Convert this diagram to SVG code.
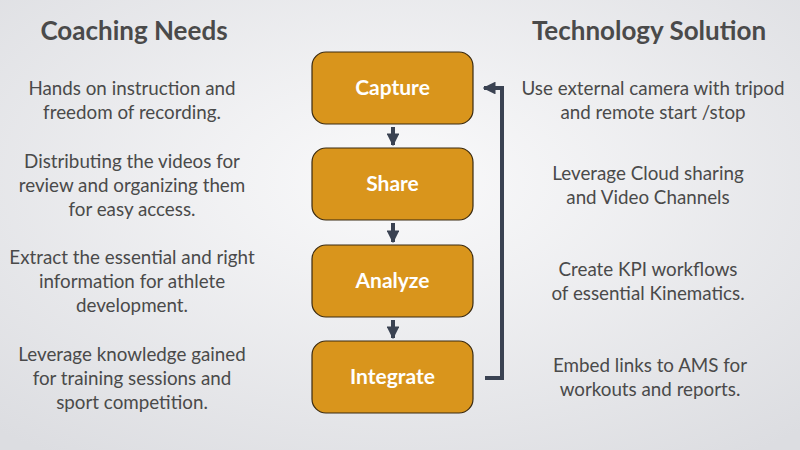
<svg xmlns="http://www.w3.org/2000/svg" width="800" height="450" viewBox="0 0 800 450">
<defs>
<radialGradient id="bg" cx="50%" cy="40%" r="75%"><stop offset="0" stop-color="#fafafb"/><stop offset="1" stop-color="#dcdde1"/></radialGradient>
<marker id="ah" viewBox="0 0 10 10" refX="9" refY="5" markerWidth="3.2" markerHeight="3.2" orient="auto"><path d="M0,0L10,5L0,10z" fill="#3a4252"/></marker>
<style>
.t{font-family:Lato,"Open Sans",sans-serif;fill:#4a4a4a;font-size:18.8px;text-anchor:middle}
.h{font-family:Lato,"Open Sans",sans-serif;fill:#4a4a4a;font-size:26px;font-weight:bold;text-anchor:middle}
.box{fill:#d9951c;stroke:#3a2a10;stroke-width:1.2}
.bl{font-family:Lato,"Open Sans",sans-serif;fill:#fff;font-size:21px;font-weight:bold;text-anchor:middle}
.c{stroke:#3a4252;stroke-width:4;fill:none;marker-end:url(#ah)}
</style>
</defs>
<rect width="800" height="450" fill="url(#bg)"/>
<text class="h" x="134" y="40">Coaching Needs</text>
<text class="h" x="649" y="40">Technology Solution</text>
<g class="t">
<text x="132" y="95">Hands on instruction and</text><text x="132" y="119">freedom of recording.</text>
<text x="132" y="168">Distributing the videos for</text><text x="132" y="192">review and organizing them</text><text x="132" y="216">for easy access.</text>
<text x="132" y="264">Extract the essential and right</text><text x="132" y="288">information for athlete</text><text x="132" y="312">development.</text>
<text x="132" y="361">Leverage knowledge gained</text><text x="132" y="385">for training sessions and</text><text x="132" y="409">sport competition.</text>
<text x="653" y="95">Use external camera with tripod</text><text x="653" y="119">and remote start /stop</text>
<text x="648" y="180">Leverage Cloud sharing</text><text x="648" y="204">and Video Channels</text>
<text x="648" y="276">Create KPI workflows</text><text x="648" y="300">of essential Kinematics.</text>
<text x="650" y="372">Embed links to AMS for</text><text x="650" y="396">workouts and reports.</text>
</g>
<g id="capture"><rect class="box" x="312" y="52" width="161" height="72" rx="14"/><text class="bl" x="392.5" y="95">Capture</text></g>
<g id="share"><rect class="box" x="312" y="148" width="161" height="72" rx="14"/><text class="bl" x="392.5" y="191">Share</text></g>
<g id="analyze"><rect class="box" x="312" y="245" width="161" height="72" rx="14"/><text class="bl" x="392.5" y="288">Analyze</text></g>
<g id="integrate"><rect class="box" x="312" y="341" width="161" height="72" rx="14"/><text class="bl" x="392.5" y="384">Integrate</text></g>
<g id="connectors">
<path class="c" d="M393,127V145"/>
<path class="c" d="M393,223V242"/>
<path class="c" d="M393,320V338"/>
<path class="c" d="M485,378H502V88H484"/>
</g>
</svg>
